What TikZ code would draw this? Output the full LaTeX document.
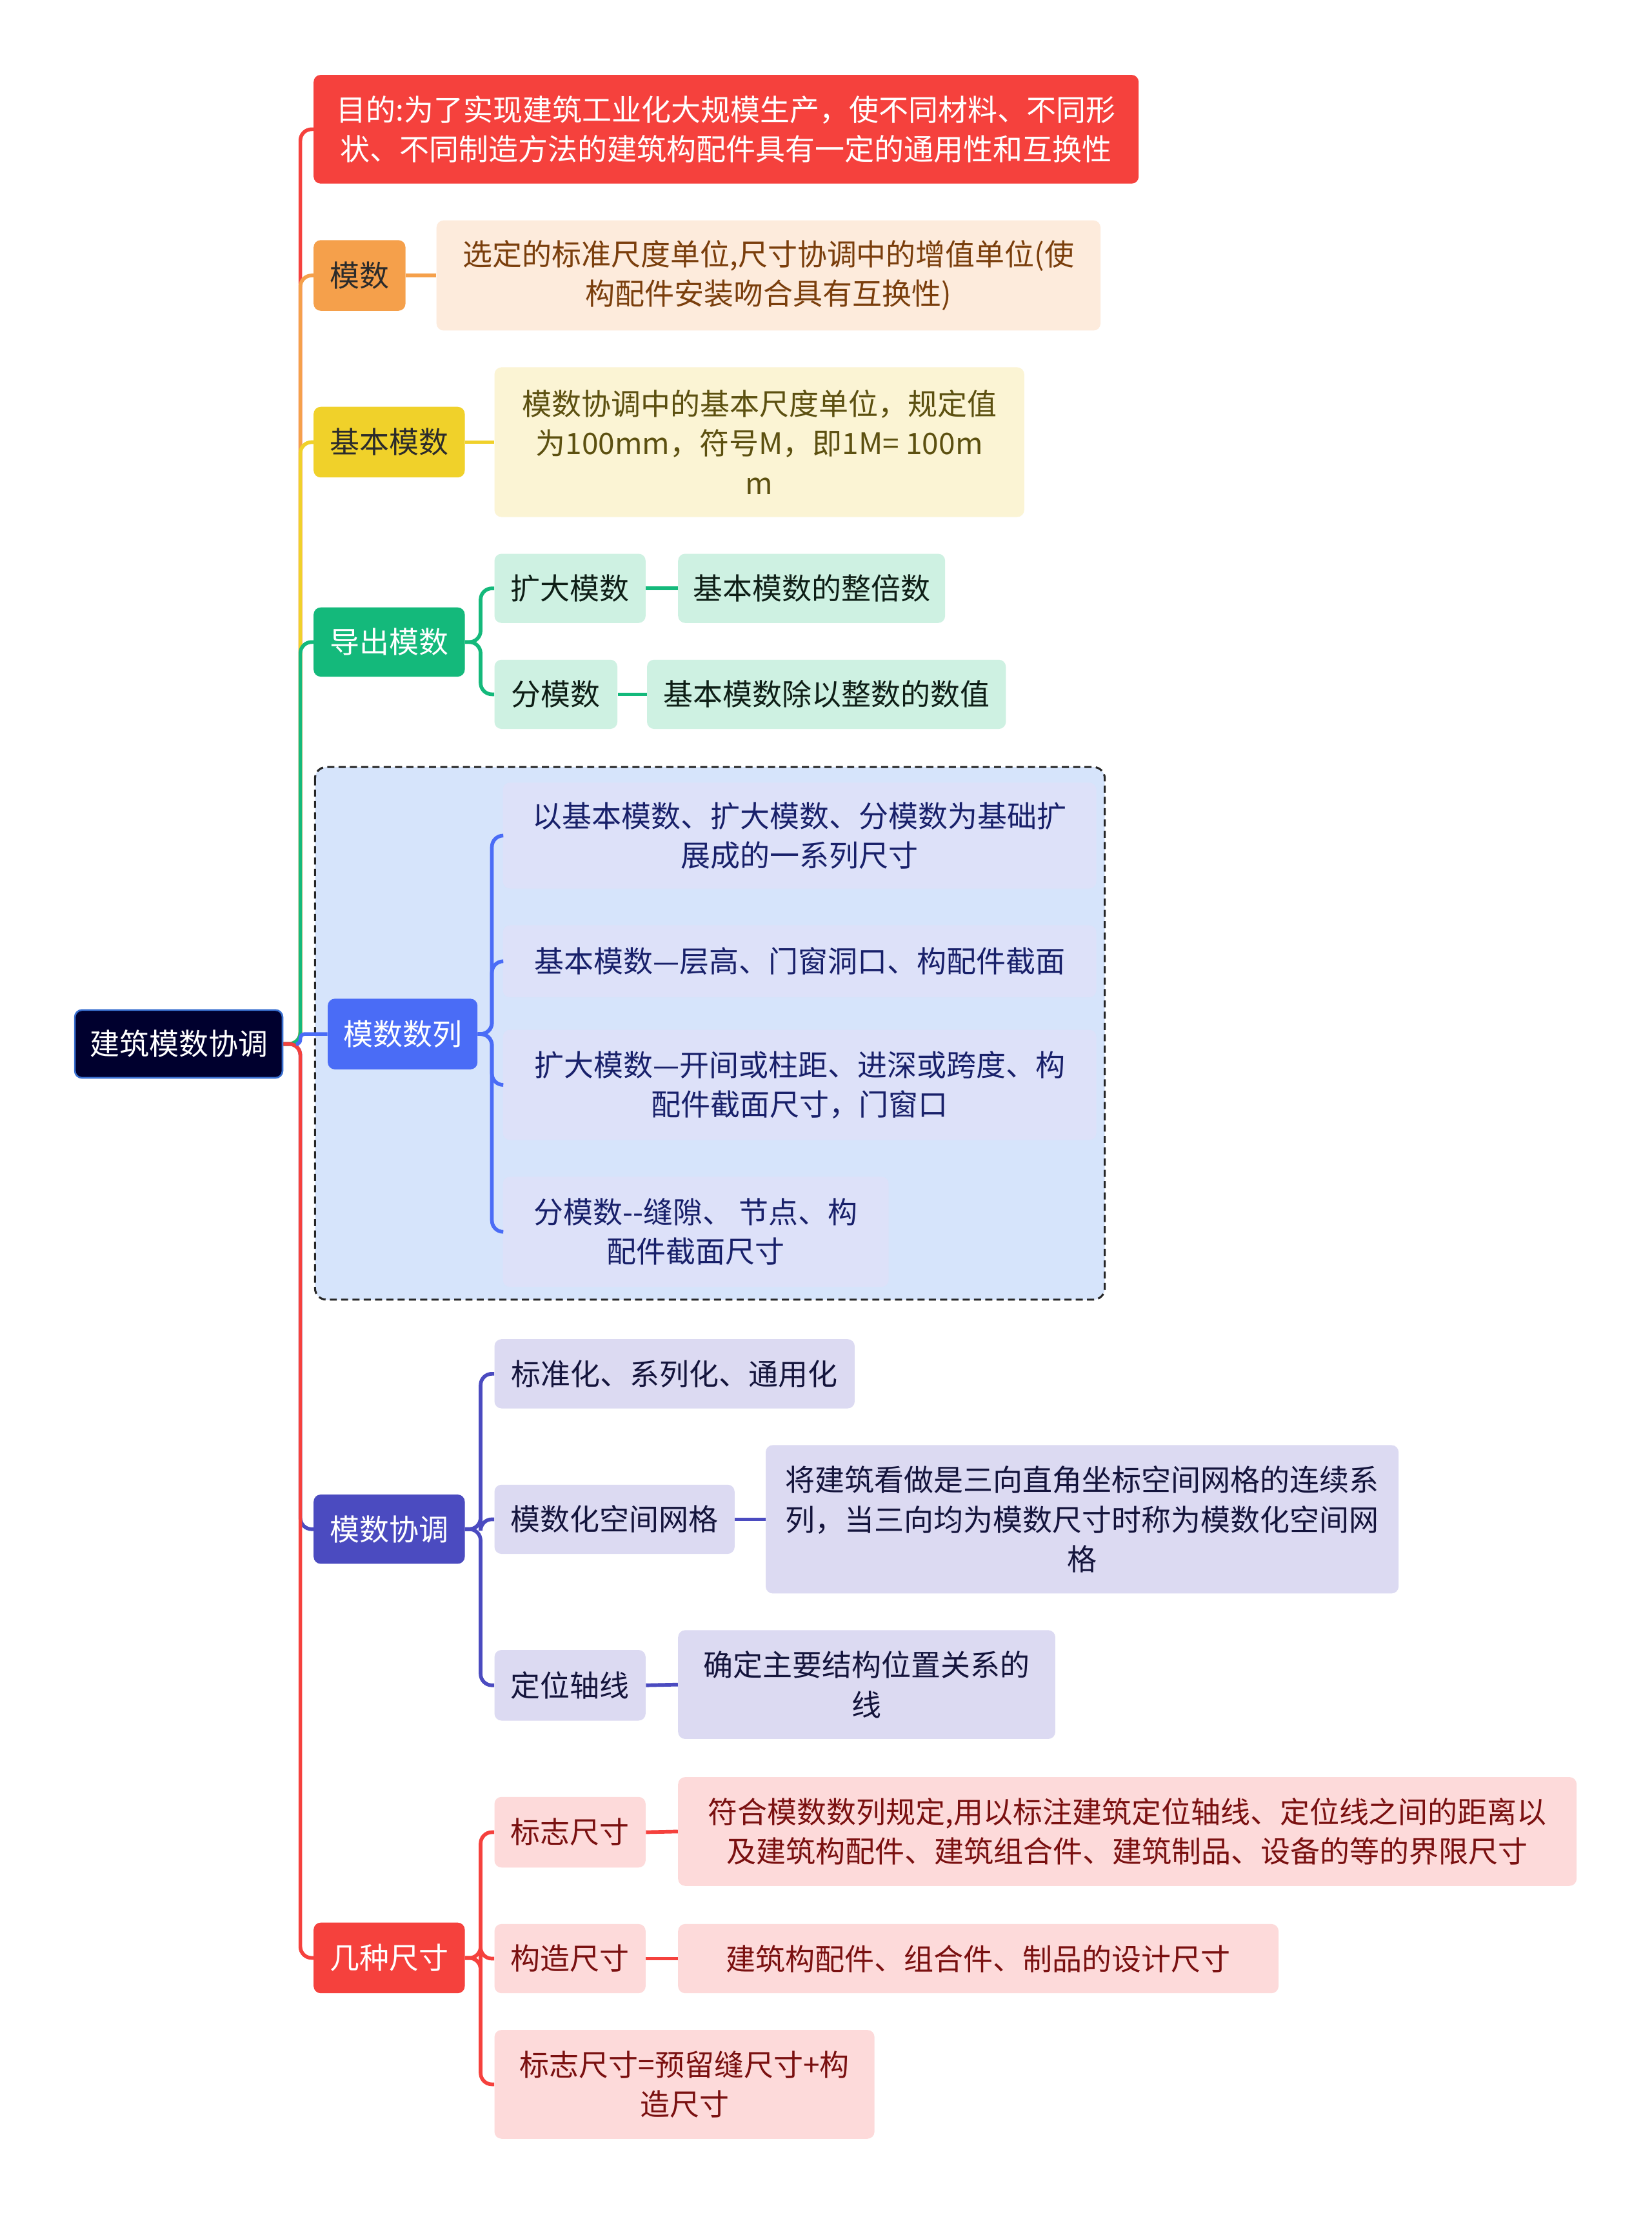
\documentclass[tikz,border=0pt]{standalone}
\usepackage{fontspec}
\setmainfont{Noto Sans CJK SC}
\definecolor{rootc}{HTML}{00002E}
\definecolor{rootb}{HTML}{3A70D0}
\definecolor{redc}{HTML}{F5413D}
\definecolor{orc}{HTML}{F5A04B}
\definecolor{orl}{HTML}{FDEBDC}
\definecolor{ort}{HTML}{7A3E0C}
\definecolor{yec}{HTML}{F0D12A}
\definecolor{yel}{HTML}{FBF4D4}
\definecolor{yet}{HTML}{5C5010}
\definecolor{grc}{HTML}{14B97B}
\definecolor{grl}{HTML}{CEF1E2}
\definecolor{grt}{HTML}{0E1E16}
\definecolor{blc}{HTML}{4A6CF6}
\definecolor{bll}{HTML}{DDE1F9}
\definecolor{blbg}{HTML}{D6E4FB}
\definecolor{blt}{HTML}{18206A}
\definecolor{puc}{HTML}{4B4BC0}
\definecolor{pul}{HTML}{DCDAF2}
\definecolor{put}{HTML}{14143C}
\definecolor{pil}{HTML}{FDDADA}
\definecolor{pit}{HTML}{7A1010}
\definecolor{darkt}{HTML}{2B2B2B}
\begin{document}
\begin{tikzpicture}[x=1pt,y=-1pt,
  base/.style={rectangle, rounded corners=5pt, inner sep=0pt, align=center,
    font=\fontsize{21pt}{28pt}\selectfont},
  sz/.style 2 args={minimum width=#1pt, minimum height=#2pt},
  conn/.style={line width=2.6pt, rounded corners=8pt}]
\fill[white] (0,0) rectangle (1169,1568);
\useasboundingbox (0,0) rectangle (1169,1568);

% dashed group background
\draw[fill=blbg, draw=black!85, dash pattern=on 5pt off 3pt, line width=1.4pt, rounded corners=8pt] (223,543) rectangle (782,920);

% root
\node[base, fill=rootc, draw=rootb, line width=1.2pt, text=white, sz={147}{48}] (root) at (126.5,739) {建筑模数协调};

% level 1
\node[base, fill=redc, text=white, sz={584}{77}] (mudi) at (514,91.5) {目的:为了实现建筑工业化大规模生产，使不同材料、不同形\\状、不同制造方法的建筑构配件具有一定的通用性和互换性};
\node[base, fill=orc, text=darkt, sz={65}{50}] (moshu) at (254.5,195) {模数};
\node[base, fill=yec, text=darkt, sz={107}{50}] (jiben) at (275.5,313) {基本模数};
\node[base, fill=grc, text=white, sz={107}{49}] (daochu) at (275.5,454.5) {导出模数};
\node[base, fill=blc, text=white, sz={106}{50}] (shulie) at (285,732) {模数数列};
\node[base, fill=puc, text=white, sz={107}{49}] (xietiao) at (275.5,1082.5) {模数协调};
\node[base, fill=redc, text=white, sz={107}{50}] (jizhong) at (275.5,1386) {几种尺寸};

% 模数
\node[base, fill=orl, text=ort, sz={470}{78}] (moshuL) at (544,195) {选定的标准尺度单位,尺寸协调中的增值单位(使\\构配件安装吻合具有互换性)};
% 基本模数
\node[base, fill=yel, text=yet, sz={375}{106}] (jibenL) at (537.5,313) {模数协调中的基本尺度单位，规定值\\为100mm，符号M，即1M= 100m\\m};
% 导出模数
\node[base, fill=grl, text=grt, sz={107}{49}] (kuoda) at (403.5,416.5) {扩大模数};
\node[base, fill=grl, text=grt, sz={189}{49}] (kuodaL) at (574.5,416.5) {基本模数的整倍数};
\node[base, fill=grl, text=grt, sz={87}{49}] (fen) at (393.5,491.5) {分模数};
\node[base, fill=grl, text=grt, sz={254}{49}] (fenL) at (585,491.5) {基本模数除以整数的数值};
% 模数数列
\node[base, fill=bll, text=blt, sz={420}{75}] (sla) at (566,591.5) {以基本模数、扩大模数、分模数为基础扩\\展成的一系列尺寸};
\node[base, fill=bll, text=blt, sz={420}{51}] (slb) at (566,680.5) {基本模数—层高、门窗洞口、构配件截面};
\node[base, fill=bll, text=blt, sz={420}{78}] (slc) at (566,768) {扩大模数—开间或柱距、进深或跨度、构\\配件截面尺寸，门窗口};
\node[base, fill=bll, text=blt, sz={273}{78}] (sld) at (492.5,872) {分模数-{}-缝隙、 节点、构\\配件截面尺寸};
% 模数协调
\node[base, fill=pul, text=put, sz={255}{49}] (xta) at (477.5,972.5) {标准化、系列化、通用化};
\node[base, fill=pul, text=put, sz={170}{49}] (xtb) at (435,1075.5) {模数化空间网格};
\node[base, fill=pul, text=put, sz={448}{105}] (xtbL) at (766,1075.5) {将建筑看做是三向直角坐标空间网格的连续系\\列，当三向均为模数尺寸时称为模数化空间网\\格};
\node[base, fill=pul, text=put, sz={107}{50}] (xtc) at (403.5,1193) {定位轴线};
\node[base, fill=pul, text=put, sz={267}{77}] (xtcL) at (613.5,1192.5) {确定主要结构位置关系的\\线};
% 几种尺寸
\node[base, fill=pil, text=pit, sz={107}{50}] (jza) at (403.5,1297) {标志尺寸};
\node[base, fill=pil, text=pit, sz={636}{77}] (jzaL) at (798,1296.5) {符合模数数列规定,用以标注建筑定位轴线、定位线之间的距离以\\及建筑构配件、建筑组合件、建筑制品、设备的等的界限尺寸};
\node[base, fill=pil, text=pit, sz={107}{49}] (jzb) at (403.5,1386.5) {构造尺寸};
\node[base, fill=pil, text=pit, sz={425}{49}] (jzbL) at (692.5,1386.5) {建筑构配件、组合件、制品的设计尺寸};
\node[base, fill=pil, text=pit, sz={269}{77}] (jzc) at (484.5,1475.5) {标志尺寸=预留缝尺寸+构\\造尺寸};

% trunk connectors
\draw[conn, redc] (root.east) -- ++(12,0) |- (mudi.west);
\draw[conn, orc] (root.east) -- ++(12,0) |- (moshu.west);
\draw[conn, yec] (root.east) -- ++(12,0) |- (jiben.west);
\draw[conn, grc] (root.east) -- ++(12,0) |- (daochu.west);
\draw[conn, puc] (root.east) -- ++(12,0) |- (xietiao.west);
\draw[conn, redc] (root.east) -- ++(12,0) |- (jizhong.west);
\draw[line width=2.6pt, rounded corners=3pt, blc] (root.east) ++(11,0) -- ++(1,0) |- (shulie.west);

% second level
\draw[conn, orc] (moshu.east) -- (moshuL.west);
\draw[conn, yec] (jiben.east) -- (jibenL.west);
\draw[conn, grc] (daochu.east) -- ++(11,0) |- (kuoda.west);
\draw[conn, grc] (daochu.east) -- ++(11,0) |- (fen.west);
\draw[conn, grc] (kuoda.east) -- (kuodaL.west);
\draw[conn, grc] (fen.east) -- (fenL.west);
\draw[conn, blc] (shulie.east) -- ++(10,0) |- (sla.west);
\draw[conn, blc] (shulie.east) -- ++(10,0) |- (slb.west);
\draw[conn, blc] (shulie.east) -- ++(10,0) |- (slc.west);
\draw[conn, blc] (shulie.east) -- ++(10,0) |- (sld.west);
\draw[conn, puc] (xietiao.east) -- ++(11,0) |- (xta.west);
\draw[conn, puc] (xietiao.east) -- ++(11,0) |- (xtb.west);
\draw[conn, puc] (xietiao.east) -- ++(11,0) |- (xtc.west);
\draw[conn, puc] (xtb.east) -- (xtbL.west);
\draw[conn, puc] (xtc.east) -- (xtcL.west);
\draw[conn, redc] (jizhong.east) -- ++(11,0) |- (jza.west);
\draw[conn, redc] (jizhong.east) -- ++(11,0) |- (jzb.west);
\draw[conn, redc] (jizhong.east) -- ++(11,0) |- (jzc.west);
\draw[conn, redc] (jza.east) -- (jzaL.west);
\draw[conn, redc] (jzb.east) -- (jzbL.west);
\end{tikzpicture}
\end{document}
